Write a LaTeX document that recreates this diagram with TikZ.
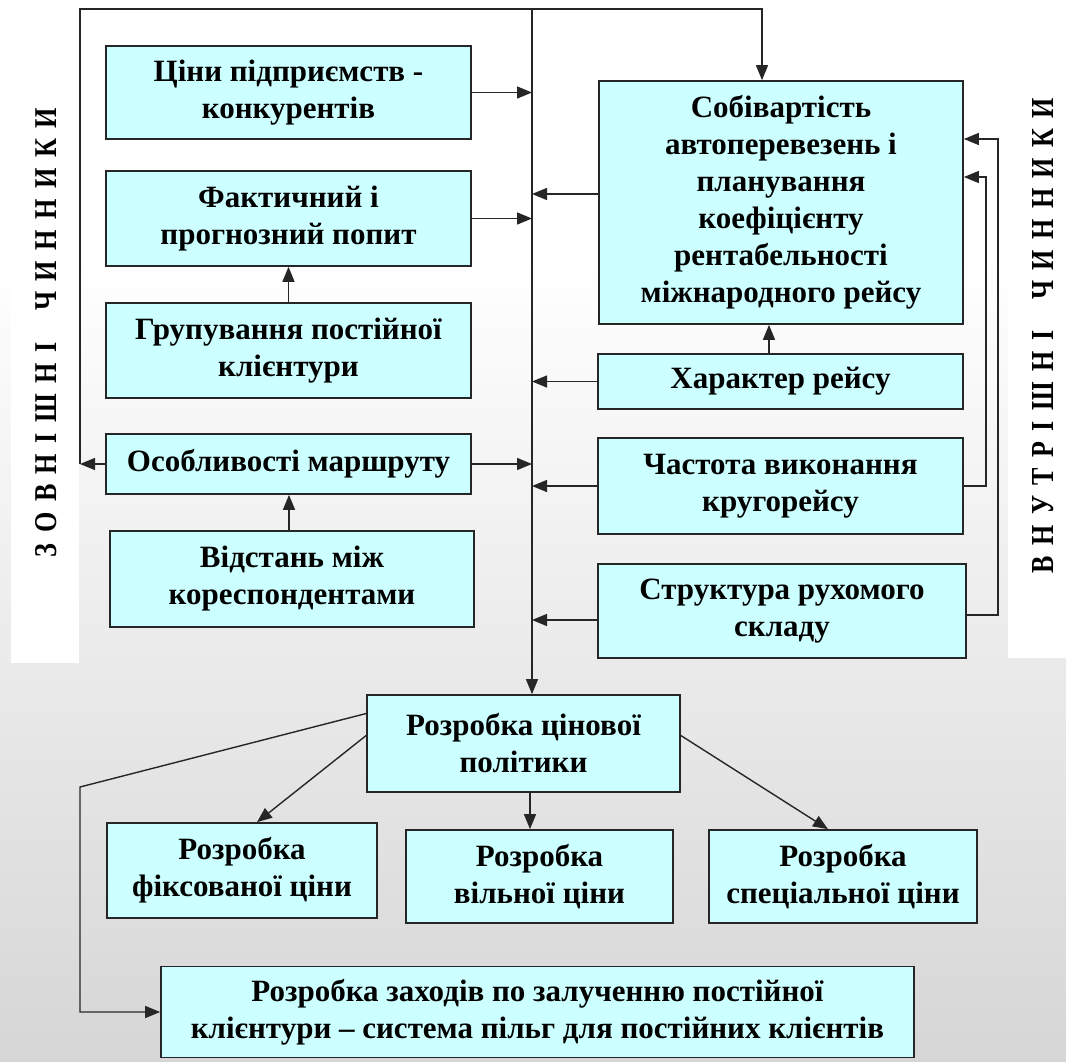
\documentclass[tikz,border=0pt]{standalone}
\usepackage{fontspec}
\setmainfont{Liberation Serif}
\usetikzlibrary{arrows.meta}
\definecolor{boxfill}{HTML}{CCFFFF}
\definecolor{edge}{HTML}{262626}
\definecolor{bggray}{HTML}{D6D6D6}
\newcommand{\lsp}{\hspace{0.40em}}
\begin{document}
\begin{tikzpicture}[x=1pt,y=-1pt,
  box/.style={draw=edge, line width=1.7pt, fill=boxfill, align=center, inner sep=0pt,
    font=\fontsize{31}{37}\selectfont\bfseries},
  conn/.style={draw=edge, line width=1.4pt},
  arr/.style={conn, -{Triangle[length=15pt,width=12pt]}},
  side/.style={rotate=90, inner sep=0pt}]
\useasboundingbox (0,0) rectangle (1066,1061);
% background
\fill[white] (0,0) rectangle (1066,260);
\shade[top color=white, bottom color=bggray] (0,259) rectangle (1066,1061);
\fill[white] (11,30) rectangle (79,663);
\fill[white] (1008,65) rectangle (1066,658);
% side labels
\node[side] (zovn) at (46.5,332.5) {\resizebox{449pt}{21pt}{\bfseries З\lsp О\lsp В\lsp Н\lsp І\lsp Ш\lsp Н\lsp І\lsp\lsp\lsp Ч\lsp И\lsp Н\lsp Н\lsp И\lsp К\lsp И}};
\node[side] (vnut) at (1043,335.5) {\resizebox{475pt}{21pt}{\bfseries В\lsp Н\lsp У\lsp Т\lsp Р\lsp І\lsp Ш\lsp Н\lsp І\lsp\lsp\lsp Ч\lsp И\lsp Н\lsp Н\lsp И\lsp К\lsp И}};
% left column
\node[box, minimum width=365pt, minimum height=93pt] (ciny) at (288.5,92.5) {Ціни підприємств -\\конкурентів};
\node[box, minimum width=365pt, minimum height=95pt] (fakt) at (288.5,218.5) {Фактичний і\\прогнозний попит};
\node[box, minimum width=365pt, minimum height=95pt] (grup) at (288.5,350.5) {Групування постійної\\клієнтури};
\node[box, minimum width=365pt, minimum height=60pt] (osob) at (288.5,464) {Особливості маршруту};
\node[box, minimum width=364pt, minimum height=96pt] (vidst) at (292,579) {Відстань між\\кореспондентами};
% right column
\node[box, minimum width=364pt, minimum height=243pt] (sobi) at (781,202.5) {Собівартість\\автоперевезень і\\планування\\коефіцієнту\\рентабельності\\міжнародного рейсу};
\node[box, minimum width=365pt, minimum height=55pt] (khar) at (780.5,381.5) {Характер рейсу};
\node[box, minimum width=365pt, minimum height=96pt] (chast) at (780.5,486) {Частота виконання\\кругорейсу};
\node[box, minimum width=368pt, minimum height=94pt] (strukt) at (782,611) {Структура рухомого\\складу};
% bottom
\node[box, minimum width=313pt, minimum height=97pt] (rozr) at (523.5,743.5) {Розробка цінової\\політики};
\node[box, minimum width=270pt, minimum height=95pt] (fiks) at (242,870.5) {Розробка\\фіксованої ціни};
\node[box, minimum width=267pt, minimum height=93pt] (vil) at (539.5,876.5) {Розробка\\вільної ціни};
\node[box, minimum width=268pt, minimum height=93pt] (spec) at (843,876.5) {Розробка\\спеціальної ціни};
\node[box, minimum width=753pt, minimum height=91pt] (zakh) at (537.5,1012) {Розробка заходів по залученню постійної\\клієнтури -- система пільг для постійних клієнтів};
% coordinates
\coordinate (tl) at (80,9);
\coordinate (tr) at (762,9);
\coordinate (bt) at (532,9);
\coordinate (f1) at (986,177);
\coordinate (f2) at (998,139);
\coordinate (zk) at (80,787);
% top loop
\draw[arr] (osob.west) -- (osob.west -| tl);
\draw[arr] (osob.west -| tl) -- (tl) -- (tr) -- (tr |- sobi.north);
% bus
\draw[arr] (bt) -- (bt |- rozr.north);
\draw[arr] (ciny.east) -- (ciny.east -| bt);
\draw[arr] (fakt.east) -- (fakt.east -| bt);
\draw[arr] (osob.east) -- (osob.east -| bt);
\draw[arr] ([yshift=8.5pt]sobi.west) -- ([yshift=8.5pt]sobi.west -| bt);
\draw[arr] (khar.west) -- (khar.west -| bt);
\draw[arr] (chast.west) -- (chast.west -| bt);
\draw[arr] ([yshift=-9pt]strukt.west) -- ([yshift=-9pt]strukt.west -| bt);
% vertical arrows
\draw[arr] (grup.north) -- (fakt.south);
\draw[arr] ([xshift=-3pt]vidst.north) -- ([xshift=-3pt]vidst.north |- osob.south);
\draw[arr] ([xshift=-11.5pt]khar.north) -- ([xshift=-11.5pt]khar.north |- sobi.south);
% feedback on the right
\draw[arr] (chast.east) -- (chast.east -| f1) -- (f1) -- (f1 -| sobi.east);
\draw[arr] ([yshift=-4pt]strukt.east) -- ([yshift=-4pt]strukt.east -| f2) -- (f2) -- (f2 -| sobi.east);
% bottom arrows
\draw[arr] ([yshift=8pt]rozr.west) -- ([xshift=15pt]fiks.north);
\draw[arr] ([xshift=6.5pt]rozr.south) -- ([xshift=6.5pt]rozr.south |- vil.north);
\draw[arr] ([yshift=8pt]rozr.east) -- ([xshift=-15pt]spec.north);
\draw[arr] ([yshift=30pt]rozr.west) -- (zk) -- (zk |- zakh.west) -- (zakh.west);
\end{tikzpicture}
\end{document}
